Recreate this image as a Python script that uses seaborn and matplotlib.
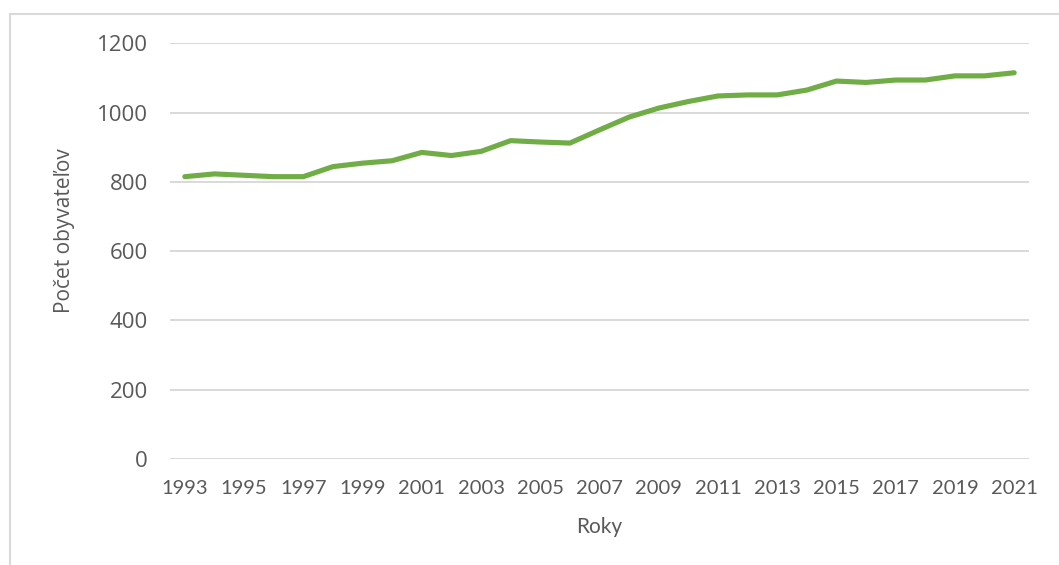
import matplotlib
matplotlib.use("Agg")
import matplotlib.pyplot as plt
from matplotlib.lines import Line2D
import seaborn as sns
import pandas as pd

years = list(range(1993, 2022))
population = [815, 823, 819, 815, 815, 844, 854, 861, 885, 876, 888, 919, 915, 912,
              950, 987, 1013, 1032, 1048, 1051, 1051, 1065, 1091, 1087, 1094, 1094,
              1106, 1106, 1115]
x_tick_labels = [str(y) for y in range(1993, 2022, 2)]
y_ticks = [0, 200, 400, 600, 800, 1000, 1200]

df = pd.DataFrame({"Roky": years, "Počet obyvateľov": population})

sns.set_style("white")
plt.rcParams['font.family'] = ['Open Sans', 'DejaVu Sans']

TEXT = "#595959"
GRID = "#d9d9d9"
GREEN = "#70AD47"
NARROW = ['Lato', 'DejaVu Sans']

fig = plt.figure(figsize=(10.59, 5.65), dpi=100)
ax = fig.add_axes([170 / 1059, 1 - 459 / 565, (1029 - 170) / 1059, (459 - 43.3) / 565])

sns.lineplot(data=df, x="Roky", y="Počet obyvateľov", ax=ax, color=GREEN,
             linewidth=3.7, solid_capstyle="round", solid_joinstyle="round")

ax.set_xlim(1992.5, 2021.5)
ax.set_ylim(0, 1200)
ax.set_yticks(y_ticks)
ax.set_yticklabels([str(v) for v in y_ticks], fontsize=16, color=TEXT)
ax.set_xticks(list(range(1993, 2022, 2)))
ax.set_xticklabels(x_tick_labels, fontsize=14.5, color=TEXT, family=NARROW)

ax.yaxis.grid(True, color=GRID, linewidth=1.4)
ax.xaxis.grid(False)
for s in ax.spines.values():
    s.set_visible(False)
ax.tick_params(axis='y', length=0, pad=16)
ax.tick_params(axis='x', length=0, pad=15)

ax.set_xlabel("Roky", fontsize=15, color=TEXT, family=NARROW)
ax.set_ylabel("Počet obyvateľov", fontsize=15, color=TEXT)
ax.xaxis.set_label_coords(0.5, -0.14)
ax.yaxis.set_label_coords(-0.111, 0.55)

# chart frame (top and left edges)
fig.add_artist(Line2D([10 / 1059, 10 / 1059], [0, 1 - 14 / 565], transform=fig.transFigure,
                      color="#d9d9d9", linewidth=1.5))
fig.add_artist(Line2D([10 / 1059, 1], [1 - 14 / 565, 1 - 14 / 565], transform=fig.transFigure,
                      color="#d9d9d9", linewidth=1.5))

fig.savefig("out.png", dpi=100)
